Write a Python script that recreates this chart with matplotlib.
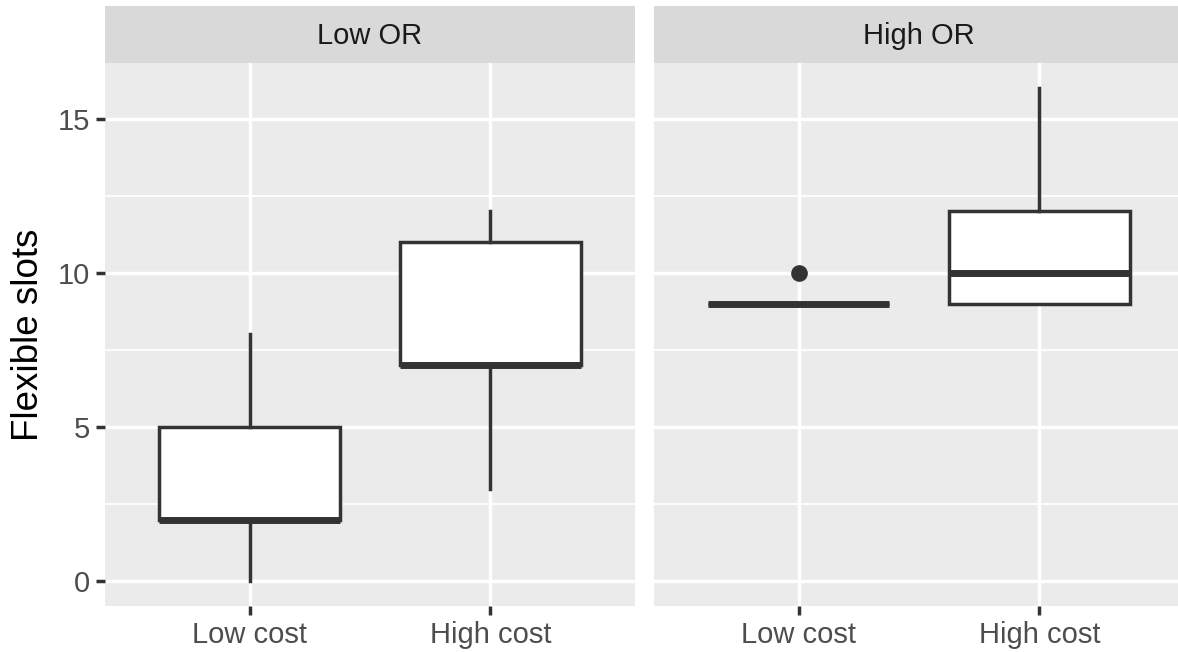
import matplotlib.pyplot as plt
from matplotlib.ticker import MultipleLocator

plt.rcParams['font.family'] = ['Liberation Sans', 'DejaVu Sans']

panels = ["Low OR", "High OR"]
costs = ["Low cost", "High cost"]

# five-number summaries per panel, ordered as costs
whislo = [[0, 3], [9, 9]]
q1 = [[2, 7], [9, 9]]
med = [[2, 7], [9, 10]]
q3 = [[5, 11], [9, 12]]
whishi = [[8, 12], [9, 16]]
fliers = [[[], []], [[10], []]]

BG = "#EBEBEB"
STRIP = "#D9D9D9"
INK = "#333333"
W, H = 1178, 652

fig = plt.figure(figsize=(W / 100, H / 100), dpi=100)

px0 = [105, 654]
pw = 530
ptop, pbot = 63, 606
strip_top = 6

for i, name in enumerate(panels):
    ax = fig.add_axes([px0[i] / W, (H - pbot) / H, pw / W, (pbot - ptop) / H])
    ax.set_facecolor(BG)
    for s in ax.spines.values():
        s.set_visible(False)

    stats = []
    for j in range(len(costs)):
        stats.append(dict(whislo=whislo[i][j], q1=q1[i][j], med=med[i][j],
                          q3=q3[i][j], whishi=whishi[i][j], fliers=fliers[i][j]))
    ax.bxp(stats, positions=[1, 2], widths=0.75, showcaps=False,
           patch_artist=True, manage_ticks=False,
           boxprops=dict(facecolor="white", edgecolor=INK, lw=2.5),
           whiskerprops=dict(color=INK, lw=2.5),
           medianprops=dict(color=INK, lw=5, solid_capstyle="butt"),
           flierprops=dict(marker="o", markersize=11, markerfacecolor=INK,
                           markeredgecolor=INK))

    ax.set_xlim(0.4, 2.6)
    ax.set_ylim(-0.8, 16.8)
    ax.yaxis.set_major_locator(MultipleLocator(5))
    ax.yaxis.set_minor_locator(MultipleLocator(2.5))
    ax.set_xticks([1, 2])
    ax.set_xticklabels(costs)
    ax.grid(which="major", color="white", lw=2.5)
    ax.grid(which="minor", axis="y", color="white", lw=1.25)
    ax.set_axisbelow(True)
    ax.tick_params(which="major", length=6.5, width=2.5, color=INK,
                   labelsize=21, labelcolor="#4D4D4D", pad=4)
    ax.tick_params(which="minor", length=0)
    if i == 0:
        ax.set_ylabel("Flexible slots", fontsize=26.5, color="black", labelpad=9)
    else:
        ax.tick_params(axis="y", left=False, labelleft=False)

    # facet strip
    sax = fig.add_axes([px0[i] / W, (H - ptop) / H, pw / W, (ptop - strip_top) / H])
    sax.set_facecolor(STRIP)
    sax.set_xticks([])
    sax.set_yticks([])
    for s in sax.spines.values():
        s.set_visible(False)
    sax.text(0.5, 0.47, name, ha="center", va="center", fontsize=21,
             color="#1A1A1A", transform=sax.transAxes)

fig.savefig("out.png", dpi=100)
